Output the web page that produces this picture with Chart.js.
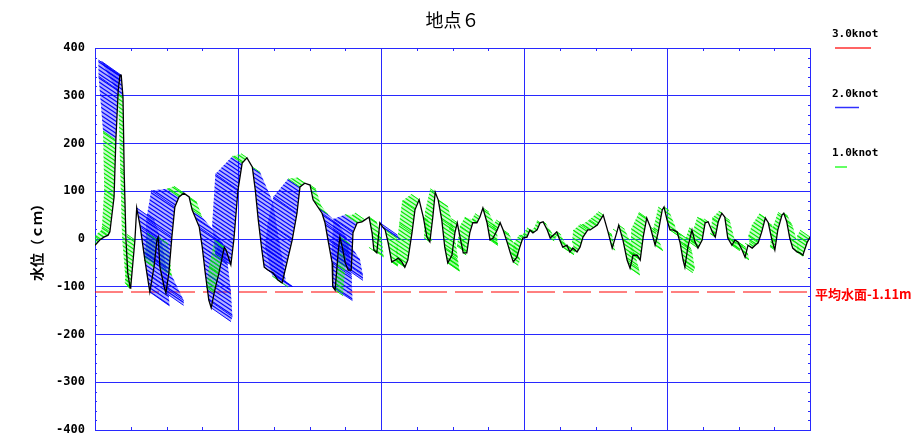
<!DOCTYPE html>
<html lang="ja">
<head>
<meta charset="utf-8">
<title>地点６</title>
<script src="https://cdn.jsdelivr.net/npm/chart.js@4.4.1/dist/chart.umd.min.js"></script>
<style>
  html, body { margin: 0; padding: 0; background: #fff; }
</style>
</head>
<body>
<canvas id="suii-zu" width="917" height="439"></canvas>
<script>
// 時刻（h）
const jikan = [
  0, 0.8, 1.5, 2.2, 2.5, 3.2, 3.5, 3.9, 4.2, 4.4,
  4.7, 4.9, 5.2, 5.5, 5.9, 6.0, 6.7, 7.0, 7.6, 8.2,
  8.7, 9.2, 9.9, 10.4, 10.6, 10.9, 11.6, 11.9, 12.4, 12.9,
  13.4, 14.1, 14.9, 15.8, 16.3, 16.8, 17.5, 18.0, 18.5, 19.1,
  19.5, 20.0, 20.8, 21.7, 22.0, 22.8, 23.3, 24.0, 24.7, 25.5,
  26.4, 26.9, 27.4, 28.0, 28.4, 29.0, 29.9, 30.7, 31.4, 32.2,
  33.1, 33.9, 34.4, 35.2, 36.1, 36.6, 37.4, 38.1, 38.6, 39.1,
  39.8, 39.9, 40.3, 40.8, 41.1, 41.5, 42.0, 42.5, 43.0, 43.3,
  44.0, 44.8, 45.3, 46.0, 46.5, 46.8, 47.3, 47.8, 48.3, 48.7,
  49.2, 49.8, 50.4, 50.9, 51.5, 52.0, 52.5, 53.2, 53.7, 54.4,
  55.1, 55.7, 56.2, 56.7, 57.1, 57.6, 58.2, 58.7, 59.2, 59.9,
  60.4, 60.8, 61.3, 61.8, 62.4, 62.9, 63.4, 64.1, 64.6, 65.1,
  65.8, 66.3, 66.8, 67.5, 68.0, 68.5, 69.2, 69.7, 70.2, 70.8,
  71.3, 71.8, 72.5, 73.0, 73.5, 74.2, 74.7, 75.2, 75.9, 76.4,
  76.9, 77.5, 78.0, 78.5, 79.2, 79.7, 80.2, 80.9, 81.4, 81.9,
  82.7, 83.1, 84.3, 85.3, 86.1, 86.8, 87.6, 87.9, 88.6, 89.3,
  89.8, 90.3, 91.0, 91.5, 92.0, 92.6, 93.2, 94.0, 94.5, 95.2,
  95.5, 96.0, 96.5, 97.0, 97.7, 98.2, 98.7, 99.0, 99.5, 100.2,
  100.7, 101.2, 101.9, 102.4, 102.9, 103.6, 104.1, 104.6, 105.2, 105.7,
  106.2, 106.9, 107.4, 107.9, 108.6, 109.1, 109.6, 110.3, 110.8, 111.3,
  111.9, 112.5, 113.0, 113.6, 114.1, 114.6, 115.3, 115.6, 116.1, 116.6,
  117.1, 117.8, 118.3, 118.8, 119.5, 120
];

// 水位（cm）
const suii = [
  -13, -2, 4, 8, 15, 88, 207, 312, 343, 343,
  297, 138, -2, -71, -103, -100, -2, 65, 25, -29,
  -71, -111, -59, -2, 4, -59, -100, -113, -71, 4,
  67, 88, 96, 88, 61, 46, 25, -17, -71, -128,
  -144, -113, -71, -17, -23, -54, -2, 103, 159, 170,
  151, 103, 40, -23, -59, -65, -71, -86, -92, -50,
  -2, 54, 109, 117, 113, 82, 67, 54, 34, -2,
  -50, -100, -107, -29, 4, -17, -50, -65, -65, 13,
  34, 36, 40, 46, 13, -23, -29, 34, 25, 19,
  -8, -48, -44, -40, -48, -59, -44, 13, 61, 82,
  46, 4, -6, 46, 98, 82, 40, -17, -50, -34,
  13, 34, 2, -29, -29, 13, 34, 34, 46, 65,
  34, -2, 2, 19, 34, 19, -8, -29, -48, -38,
  -17, 2, 4, 19, 13, 19, 34, 36, 19, 2,
  8, 15, -2, -17, -13, -27, -19, -27, -17, 4,
  19, 19, 29, 50, 15, -19, 15, 29, -2, -44,
  -61, -34, -34, -44, 4, 44, 25, -13, 13, 61,
  67, 40, 19, 19, 15, -8, -44, -59, -17, 19,
  -6, -19, -2, 34, 36, 15, 4, 36, 54, 46,
  2, -13, -2, -6, -23, -38, -13, -19, -13, -8,
  15, 44, 34, -2, -23, 19, 50, 54, 36, 2,
  -19, -27, -29, -34, -8, 4
];

// 流速（knot）：＋は上げ潮（北西向き）、－は下げ潮（南東向き）
const ryusoku = [
  0.4, 0.5, 0.6, 0.7, 0.8, 1.0, 1.3, 2.0, 2.2, 2.0,
  0.5, 0.4, 0.4, 0.3, 0.3, 0.6, 0.8, -1.8, -2.2, -2.3,
  -2.2, -2.0, 1.0, 1.0, -1.0, -1.2, -2.0, -1.8, 2.4, 2.6,
  2.4, 1.2, 1.0, -0.8, -1.0, -1.8, -2.4, -2.6, -2.6, -2.4,
  -2.0, 0.8, 1.0, 1.0, 0.8, 1.6, 2.2, 2.3, 1.0, 0.6,
  -0.8, -1.8, -2.0, -2.2, -2.2, -2.0, -2.0, -1.0, 1.0, 2.2,
  2.5, 2.4, 1.2, 0.8, -0.6, -0.8, -1.0, -1.8, -2.2, -2.2,
  -2.0, -2.0, -0.8, -0.8, -1.0, -1.8, -1.8, -1.5, 2.0, 2.0,
  1.2, 1.0, 1.0, -0.8, -1.0, -1.0, 0.8, -1.8, -1.8, -1.2,
  -1.0, -0.6, -0.4, -0.4, 0.5, 0.8, 1.2, 1.3, 1.3, 0.8,
  -0.5, -0.5, 0.6, 0.8, 0.5, -1.0, -1.2, -1.3, -1.2, -0.5,
  0.6, 0.6, -0.4, -0.3, 1.0, 1.0, 0.8, 0.5, 0.5, -0.6,
  -1.0, -0.8, -0.4, 0.5, 0.4, -0.6, -1.0, -1.0, -0.5, 0.5,
  0.6, 0.4, 0.4, 0.3, 0.3, 0.3, 0.3, -0.3, -0.5, -0.4,
  -0.3, -0.4, -0.6, -0.6, -0.5, -0.4, -0.3, 0.3, 0.8, 1.0,
  0.8, 0.8, 0.8, 0.5, -0.4, -0.3, 0.4, -0.6, -1.0, -1.2,
  -1.0, 0.4, 0.4, 1.0, 1.2, 0.8, -0.5, -0.8, 0.5, 0.4,
  -0.5, -0.8, -0.8, -0.8, -1.0, -1.2, -1.2, -0.8, 0.4, 0.3,
  0.4, 0.8, 1.0, 0.8, 0.4, -0.3, 0.5, 0.6, 0.3, -0.5,
  -0.8, -0.8, -0.8, -0.8, -0.6, -0.4, 0.3, 0.3, 0.6, 1.0,
  1.0, 0.6, -0.4, -0.3, 0.5, 0.5, 0.4, -0.4, -0.6, -0.8,
  -0.8, -0.6, -0.4, 0.6, 1.0, 1.0
];

// 平均水面（cm）
const heikinSuimen = -111;

// 凡例（流速スケール）
const hanreiKnot = [3.0, 2.0, 1.0];
const hanreiIro = ['#ff3030', '#3030ff', '#30ff30'];

// 軸
const xSaisho = 0, xSaidai = 120, xKankaku = 24;
const ySaisho = -400, ySaidai = 400, yKankaku = 100;

const AO = '#2828ff';
const PX_PER_KNOT = 12;            // 1knot あたりの矢の長さ（px）
const KAKUDO = 35 * Math.PI / 180; // 北西-南東の向き

function ryusokuIro(sp, alpha) {
    if (sp >= 3) return 'rgba(255,0,0,' + alpha + ')';
    if (sp >= 1.5) return 'rgba(0,0,255,' + alpha + ')';
    return 'rgba(0,235,0,' + alpha + ')';
}

// 斜線のハッチング模様
const moyoCache = {};
function hatchMoyo(ctx, iro) {
    if (moyoCache[iro]) return moyoCache[iro];
    const c = document.createElement('canvas');
    c.width = 6;
    c.height = 4;
    const g = c.getContext('2d');
    g.strokeStyle = iro;
    g.lineWidth = 1.1;
    [-4, 0, 4].forEach(d => {
        g.beginPath();
        g.moveTo(-6, -4 + d);
        g.lineTo(12, 8 + d);
        g.stroke();
    });
    moyoCache[iro] = ctx.createPattern(c, 'repeat');
    return moyoCache[iro];
}

// 流速ベクトル（スティック）の描画
const stickPlugin = {
    id: 'sticks',
    afterDatasetDraw(chart, args) {
        if (args.index !== 1) return;
        const { ctx, chartArea, scales: { x, y } } = chart;
        ctx.save();
        ctx.beginPath();
        ctx.rect(chartArea.left, chartArea.top, chartArea.width, chartArea.height);
        ctx.clip();

        const pts = jikan.map((t, i) => {
            const px = x.getPixelForValue(t);
            const py = y.getPixelForValue(suii[i]);
            const s = ryusoku[i];
            const len = Math.abs(s) * PX_PER_KNOT;
            const muki = s >= 0 ? -1 : 1;
            return {
                px, py, s,
                ex: px + muki * len * Math.cos(KAKUDO),
                ey: py + muki * len * Math.sin(KAKUDO)
            };
        });

        // 隣り合うスティックの間を塗る
        for (let i = 0; i < pts.length - 1; i++) {
            const a = pts[i], b = pts[i + 1];
            if (Math.sign(a.s) !== Math.sign(b.s)) continue;
            const sp = Math.max(Math.abs(a.s), Math.abs(b.s));
            ctx.beginPath();
            ctx.moveTo(a.px, a.py);
            ctx.lineTo(a.ex, a.ey);
            ctx.lineTo(b.ex, b.ey);
            ctx.lineTo(b.px, b.py);
            ctx.closePath();
            ctx.fillStyle = ryusokuIro(sp, sp >= 1.5 ? 0.3 : 0.22);
            ctx.fill();
            ctx.fillStyle = hatchMoyo(ctx, ryusokuIro(sp, 1));
            ctx.fill();
        }

        // スティック本体
        ctx.lineWidth = 1;
        pts.forEach(p => {
            ctx.strokeStyle = ryusokuIro(Math.abs(p.s), 0.9);
            ctx.beginPath();
            ctx.moveTo(p.px, p.py);
            ctx.lineTo(p.ex, p.ey);
            ctx.stroke();
        });
        ctx.restore();
    }
};

// 目盛り・タイトル・凡例など
const kazariPlugin = {
    id: 'kazari',
    afterDraw(chart) {
        const { ctx, chartArea, scales: { x, y } } = chart;
        const { left, right, top, bottom } = chartArea;
        ctx.save();

        // 補助目盛り
        ctx.strokeStyle = AO;
        ctx.lineWidth = 1;
        ctx.beginPath();
        for (let t = xSaisho + 6; t < xSaidai; t += 6) {
            if (t % xKankaku === 0) continue;
            const px = Math.round(x.getPixelForValue(t)) + 0.5;
            ctx.moveTo(px, top); ctx.lineTo(px, top + 3);
            ctx.moveTo(px, bottom); ctx.lineTo(px, bottom - 3);
        }
        for (let v = ySaisho + 20; v < ySaidai; v += 20) {
            if (v % yKankaku === 0) continue;
            const py = Math.round(y.getPixelForValue(v)) + 0.5;
            ctx.moveTo(left, py); ctx.lineTo(left + 2, py);
            ctx.moveTo(right, py); ctx.lineTo(right - 2, py);
        }
        ctx.stroke();

        // タイトル
        ctx.fillStyle = '#000';
        ctx.font = '18px "Noto Sans CJK JP"';
        ctx.textAlign = 'center';
        ctx.textBaseline = 'middle';
        ctx.fillText('地点６', (left + right) / 2, 20);

        // 平均水面ラベル
        ctx.fillStyle = '#ff0000';
        ctx.font = 'bold 13px "Noto Sans CJK JP"';
        ctx.textAlign = 'left';
        ctx.fillText('平均水面-1.11m', right + 5, y.getPixelForValue(heikinSuimen) + 2);

        // 凡例
        ctx.font = 'bold 11px "DejaVu Sans Mono"';
        ctx.textBaseline = 'alphabetic';
        hanreiKnot.forEach((k, i) => {
            const yy = top + i * 59.5;
            ctx.fillStyle = '#000';
            ctx.fillText(k.toFixed(1) + 'knot', right + 22, yy - 11);
            ctx.strokeStyle = hanreiIro[i];
            ctx.lineWidth = 1.5;
            ctx.beginPath();
            ctx.moveTo(right + 25, yy);
            ctx.lineTo(right + 25 + k * PX_PER_KNOT, yy);
            ctx.stroke();
        });
        ctx.restore();
    }
};

const suiiData = jikan.map((t, i) => ({ x: t, y: suii[i] }));
const heikinData = [{ x: xSaisho, y: heikinSuimen }, { x: xSaidai, y: heikinSuimen }];

new Chart(document.getElementById('suii-zu'), {
    type: 'scatter',
    data: {
        datasets: [{
            label: '水位',
            data: suiiData,
            showLine: true,
            borderColor: '#000',
            borderWidth: 1.3,
            pointRadius: 0,
            order: 0
        }, {
            label: '平均水面',
            data: heikinData,
            showLine: true,
            borderColor: '#ff0000',
            borderWidth: 1,
            borderDash: [28, 8],
            pointRadius: 0,
            order: 1
        }]
    },
    options: {
        responsive: false,
        animation: false,
        layout: { padding: { left: 0, right: 107, top: 48, bottom: 9 } },
        scales: {
            x: {
                type: 'linear',
                min: xSaisho,
                max: xSaidai,
                ticks: { stepSize: xKankaku, display: false },
                grid: { color: AO, drawTicks: false },
                border: { color: AO },
                afterFit(s) { s.height = 0; }
            },
            y: {
                min: ySaisho,
                max: ySaidai,
                ticks: {
                    stepSize: yKankaku,
                    color: '#000',
                    padding: 10,
                    font: { family: 'DejaVu Sans Mono', size: 12, weight: 'bold' }
                },
                grid: { color: AO, drawTicks: false },
                border: { color: AO },
                title: {
                    display: true,
                    text: '水位（ｃｍ）',
                    color: '#000',
                    font: { family: 'Noto Sans CJK JP', size: 14, weight: 'bold' },
                    padding: { top: 28, bottom: 0 }
                },
                afterFit(s) {
                    s.width = 95;
                    s.paddingTop = 0;
                    s.paddingBottom = 0;
                }
            }
        },
        plugins: {
            legend: { display: false },
            tooltip: { enabled: false }
        }
    },
    plugins: [stickPlugin, kazariPlugin]
});
</script>
</body>
</html>
